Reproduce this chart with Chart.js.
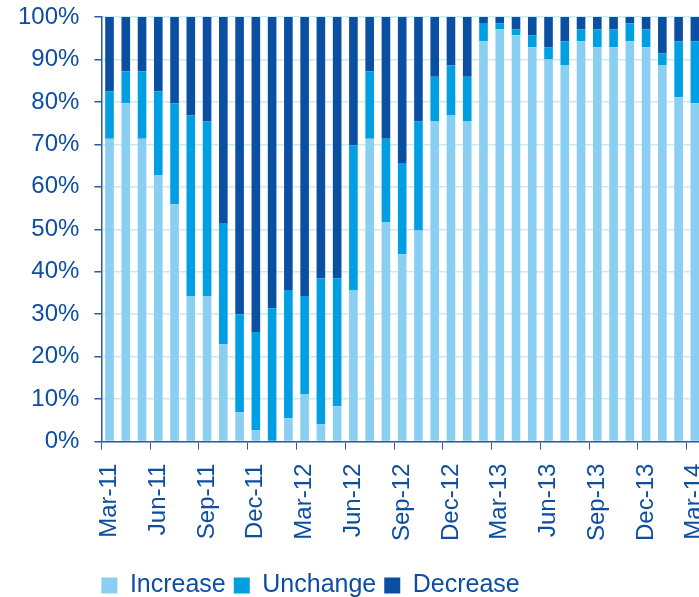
<!DOCTYPE html>
<html>
<head>
<meta charset="utf-8">
<title>Increase / Unchange / Decrease</title>
<script src="https://cdn.jsdelivr.net/npm/chart.js@4.4.1/dist/chart.umd.min.js"></script>
<style>
    html, body { margin: 0; padding: 0; background: #fff; overflow: hidden; }
    #wrap { width: 699px; height: 597px; overflow: hidden; }
</style>
</head>
<body>
<div id="wrap"><canvas id="barChart" width="706" height="608"></canvas></div>
<script>

// months, Mar-11 .. Mar-14
const months = [
    "Mar-11","Apr-11","May-11","Jun-11","Jul-11","Aug-11","Sep-11","Oct-11","Nov-11","Dec-11",
    "Jan-12","Feb-12","Mar-12","Apr-12","May-12","Jun-12","Jul-12","Aug-12","Sep-12","Oct-12",
    "Nov-12","Dec-12","Jan-13","Feb-13","Mar-13","Apr-13","May-13","Jun-13","Jul-13","Aug-13",
    "Sep-13","Oct-13","Nov-13","Dec-13","Jan-14","Feb-14","Mar-14"
];

// share of answers, %
const increase = [
    71.3, 79.7, 71.3, 62.8, 55.9, 34.3, 34.3, 22.9, 6.9, 2.7,
    0.0, 5.5, 11.2, 4.1, 8.3, 35.7, 71.3, 51.7, 44.1, 49.7,
    75.4, 76.8, 75.4, 94.3, 97.1, 95.7, 92.9, 90.0, 88.6, 94.3,
    92.9, 92.9, 94.3, 92.9, 88.6, 81.1, 79.7
];
const unchange = [
    11.2, 7.5, 15.9, 19.7, 23.8, 42.5, 41.1, 28.6, 23.1, 23.1,
    31.4, 30.2, 23.1, 34.4, 30.2, 34.1, 15.9, 19.6, 21.5, 25.7,
    10.5, 11.8, 10.5, 4.3, 1.4, 1.4, 2.8, 2.9, 5.7, 2.8,
    4.2, 4.2, 4.2, 4.2, 2.8, 13.2, 14.6
];
const decrease = [
    17.5, 12.8, 12.8, 17.5, 20.3, 23.2, 24.6, 48.5, 70.0, 74.2,
    68.6, 64.3, 65.7, 61.5, 61.5, 30.2, 12.8, 28.7, 34.4, 24.6,
    14.1, 11.4, 14.1, 1.4, 1.5, 2.9, 4.3, 7.1, 5.7, 2.9,
    2.9, 2.9, 1.5, 2.9, 8.6, 5.7, 5.7
];

const yTicks = [0, 10, 20, 30, 40, 50, 60, 70, 80, 90, 100];

const TEXT = "#0d4ea1";
const AXIS = "#2c5ba3";
const GRID = "#c9eaf8";
const FONT = "'Liberation Sans', Arial, sans-serif";

// legend starts under the plot's left edge, like the original
const legendToLeft = {
    id: "legendToLeft",
    afterLayout(chart){
        const lg = chart.legend;
        lg.left = chart.chartArea.left - lg.options.labels.padding;
    }
};

function renderBar(){

    new Chart(document.getElementById("barChart"), {
        type: "bar",
        data: {
            labels: months,
            datasets: [
                { label: "Increase", data: increase, backgroundColor: "#8acff1" },
                { label: "Unchange", data: unchange, backgroundColor: "#009fe3" },
                { label: "Decrease", data: decrease, backgroundColor: "#0b4fa3" }
            ]
        },
        options: {
            responsive: false,
            animation: false,
            datasets: {
                bar: { categoryPercentage: 1.0, barPercentage: 0.53 }
            },
            layout: {
                padding: { top: 17, left: 3, right: 3, bottom: 0 }
            },
            plugins: {
                legend: {
                    position: "bottom",
                    align: "start",
                    labels: {
                        boxWidth: 16,
                        boxHeight: 16,
                        padding: 8,
                        color: TEXT,
                        font: { family: FONT, size: 25 }
                    }
                },
                tooltip: { enabled: false }
            },
            scales: {
                x: {
                    stacked: true,
                    // plot runs off the right edge in the original, and leaves room above the legend
                    afterFit: s => { s.paddingRight = 0; s.height += 10; },
                    grid: {
                        drawOnChartArea: false,
                        tickLength: 8,
                        tickColor: c => c.index % 3 === 0 ? AXIS : "rgba(0,0,0,0)"
                    },
                    border: { color: AXIS, width: 1.5 },
                    ticks: {
                        autoSkip: false,
                        minRotation: 90,
                        maxRotation: 90,
                        padding: 14,
                        color: TEXT,
                        font: { family: FONT, size: 24 },
                        callback: (v, i) => i % 3 === 0 ? months[i] : ""
                    }
                },
                y: {
                    stacked: true,
                    min: 0,
                    max: 100,
                    afterBuildTicks: s => { s.ticks = yTicks.map(v => ({ value: v })); },
                    afterFit: s => { s.paddingTop = 0; },
                    grid: {
                        color: GRID,
                        lineWidth: 1.5,
                        tickColor: AXIS,
                        tickLength: 7
                    },
                    border: { color: AXIS, width: 1.5 },
                    ticks: {
                        padding: 15,
                        color: TEXT,
                        font: { family: FONT, size: 24 },
                        callback: v => v + "%"
                    }
                }
            }
        },
        plugins: [legendToLeft]
    });

}

renderBar();
</script>
</body>
</html>
